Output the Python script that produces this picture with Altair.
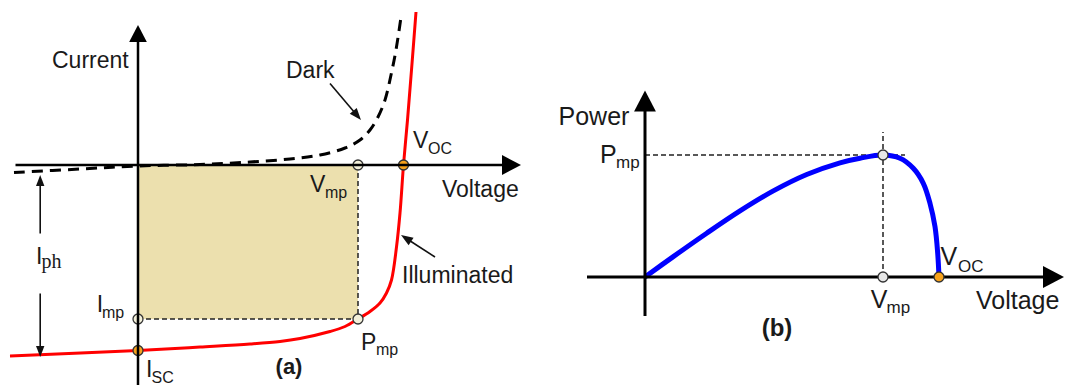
import math
import altair as alt
import pandas as pd

# ---------------- (a) I-V characteristics, schematic units ----------------
V_MP_A = 22.0
V_OC_A = 26.55
I_MP_A = -15.4
I_SC_A = -18.55

ILLUM_V = [-12.8, 0.0, 6.2, 11.2, 14.2, 16.2, 19.2, 20.7, 22.0, 23.2, 24.2, 24.85,
           25.35, 25.85, 26.2, 26.55, 26.95, 27.35, 27.8]
ILLUM_I = [-19.1, -18.55, -18.2, -17.9, -17.65, -17.35, -16.65, -16.15, -15.4, -14.65,
           -13.8, -12.8, -11.5, -8.2, -4.8, 0.0, 4.5, 9.5, 15.3]

DARK_V = [-12.4, -5.8, 0.0, 6.2, 11.2, 15.2, 18.2, 20.7, 22.2, 23.2, 24.0, 24.7, 25.3, 25.8, 26.3]
DARK_I = [-0.75, -0.4, -0.1, 0.05, 0.3, 0.6, 1.0, 1.7, 2.5, 3.5, 4.8, 6.5, 9.0, 11.5, 14.8]

# ---------------- (b) P-V characteristic ----------------
V_MP_B = 23.8
V_OC_B = 29.4
P_MP_B = 12.2

POWER_V = [0.0, 2.83, 6.17, 9.5, 12.83, 16.17, 19.5, 21.5, 23.8, 25.5, 26.83, 27.83,
           28.5, 29.0, 29.27, 29.4]
POWER_P = [0.0, 2.04, 4.38, 6.61, 8.61, 10.25, 11.42, 11.88, 12.2, 11.87, 10.87, 9.37,
           7.37, 5.03, 2.37, 0.0]

# ---------------- layout (10 px per schematic unit on both axes) ----------------
PX = 10.0
A_W, B_W, H = 540, 526, 385
A_XDOM, A_YDOM = [-13.8, 40.2], [-22.0, 16.5]
B_XDOM, B_YDOM = [-10.5, 42.1], [-10.8, 27.7]

TEXT = "#1a1a1a"
SANS = "Liberation Sans"
SERIF = "Liberation Serif"
ORANGE = "#F7A21B"
CURVE = "catmull-rom"
AXIS_HEAD = "M0,0L0.52,1L-0.52,1Z"
POINTER_HEAD = "M0,0L0.38,1L-0.38,1Z"


def arrow(x0, y0, x1, y1, head_px):
    """Shaft segment plus a head row pointing at (x1, y1)."""
    dx, dy = x1 - x0, y1 - y0
    n = math.hypot(dx, dy)
    back = 0.8 * head_px / PX
    shaft = dict(x=x0, y=y0, x2=x1 - dx / n * back, y2=y1 - dy / n * back)
    ang = math.degrees(math.atan2(dx, dy)) % 360
    head = dict(x=x1, y=y1, angle=ang, size=(2 * head_px) ** 2)
    return shaft, head


def panel(xdom, ydom, width, axis_specs, pointer_specs, layers_fn, labels, sub_labels,
          serif_labels, bold_labels, axis_width):
    sx = alt.Scale(domain=xdom, nice=False, zero=False)
    sy = alt.Scale(domain=ydom, nice=False, zero=False)

    def X(f):
        return alt.X(f, type="quantitative", scale=sx, axis=None)

    def Y(f):
        return alt.Y(f, type="quantitative", scale=sy, axis=None)

    axis_shafts, axis_heads = zip(*[arrow(*a) for a in axis_specs])
    layers = layers_fn(X, Y)

    layers.append(
        alt.Chart(pd.DataFrame(list(axis_shafts))).mark_rule(
            color="black", strokeWidth=axis_width, strokeCap="butt")
        .encode(x=X("x"), y=Y("y"), x2="x2:Q", y2="y2:Q"))
    layers.append(
        alt.Chart(pd.DataFrame(list(axis_heads))).mark_point(
            shape=AXIS_HEAD, filled=True, color="black", opacity=1, strokeWidth=0)
        .encode(x=X("x"), y=Y("y"), angle=alt.Angle("angle:Q", scale=None),
                size=alt.Size("size:Q", scale=None)))

    if pointer_specs:
        p_shafts, p_heads = zip(*[arrow(*a) for a in pointer_specs])
        layers.append(
            alt.Chart(pd.DataFrame(list(p_shafts))).mark_rule(color="#111", strokeWidth=1.6)
            .encode(x=X("x"), y=Y("y"), x2="x2:Q", y2="y2:Q"))
        layers.append(
            alt.Chart(pd.DataFrame(list(p_heads))).mark_point(
                shape=POINTER_HEAD, filled=True, color="#111", opacity=1, strokeWidth=0)
            .encode(x=X("x"), y=Y("y"), angle=alt.Angle("angle:Q", scale=None),
                    size=alt.Size("size:Q", scale=None)))

    for rows, font, weight, align in [
        (labels, SANS, "normal", "left"),
        (sub_labels, SANS, "normal", "left"),
        (serif_labels, SERIF, "normal", "left"),
        (bold_labels, SANS, "bold", "center"),
    ]:
        if not rows:
            continue
        df = pd.DataFrame(rows, columns=["text", "x", "y", "size"])
        layers.append(
            alt.Chart(df).mark_text(align=align, baseline="alphabetic", font=font,
                                    fontWeight=weight, color=TEXT)
            .encode(x=X("x"), y=Y("y"), text="text:N", size=alt.Size("size:Q", scale=None)))

    return alt.layer(*layers).properties(width=width, height=H)


# ---------------- panel (a) ----------------
def layers_a(X, Y):
    box = pd.DataFrame([dict(x=0.0, x2=V_MP_A, y=0.0, y2=I_MP_A)])
    guides = pd.DataFrame([
        dict(x=0.0, y=I_MP_A, x2=V_MP_A, y2=I_MP_A),
        dict(x=V_MP_A, y=0.0, x2=V_MP_A, y2=I_MP_A),
    ])
    illum = pd.DataFrame({"v": ILLUM_V, "i": ILLUM_I})
    dark = pd.DataFrame({"v": DARK_V, "i": DARK_I})
    dots = pd.DataFrame([
        dict(x=V_MP_A, y=0.0, fill="#F3F0DA"),
        dict(x=0.0, y=I_MP_A, fill="#F3F0DA"),
        dict(x=V_MP_A, y=I_MP_A, fill="#F3F0DA"),
        dict(x=V_OC_A, y=0.0, fill=ORANGE),
        dict(x=0.0, y=I_SC_A, fill=ORANGE),
    ])
    return [
        alt.Chart(box).mark_rect(color="#ECE0AE").encode(x=X("x"), x2="x2:Q", y=Y("y"), y2="y2:Q"),
        alt.Chart(guides).mark_rule(color="#222", strokeWidth=1.5, strokeDash=[5, 3])
        .encode(x=X("x"), y=Y("y"), x2="x2:Q", y2="y2:Q"),
        alt.Chart(dark).mark_line(color="black", strokeWidth=3, strokeDash=[11, 7],
                                  interpolate=CURVE)
        .encode(x=X("v"), y=Y("i")),
        alt.Chart(illum).mark_line(color="#FF0000", strokeWidth=3, interpolate=CURVE)
        .encode(x=X("v"), y=Y("i")),
    ], dots


def build_a():
    holder = {}

    def fn(X, Y):
        base, dots = layers_a(X, Y)
        holder["dots"] = (dots, X, Y)
        return base

    axes = [(-12.25, 0.0, 38.3, 0.0, 19), (0.0, -22.0, 0.0, 14.0, 17)]
    pointers = [
        (19.2, 8.16, 22.3, 4.5, 12),        # Dark
        (29.7, -9.2, 26.3, -7.0, 12),       # Illuminated
        (-9.78, -6.85, -9.78, -1.0, 11),    # I_ph upper
        (-9.78, -12.85, -9.78, -19.2, 11),  # I_ph lower
    ]
    labels = [
        ("Current", -8.6, 9.7, 23),
        ("Dark", 14.8, 8.7, 23),
        ("Voltage", 30.4, -3.2, 23),
        ("Illuminated", 26.4, -11.8, 23),
        ("V", 27.5, 1.7, 23),
        ("V", 17.2, -2.7, 23),
        ("I", -10.2, -9.9, 23),
        ("I", -4.13, -14.7, 23),
        ("I", 0.8, -21.2, 23),
        ("P", 22.3, -18.5, 23),
    ]
    subs = [
        ("OC", 29.0, 1.1, 16),
        ("mp", 18.7, -3.3, 16),
        ("mp", -3.6, -15.3, 16),
        ("SC", 1.35, -21.8, 16),
        ("mp", 23.8, -19.0, 16),
    ]
    serif = [("ph", -9.65, -10.3, 20)]
    bold = [("(a)", 15.1, -20.9, 22)]
    ch = panel(A_XDOM, A_YDOM, A_W, axes, pointers, fn, labels, subs, serif, bold, 2.5)
    dots, X, Y = holder["dots"]
    dot_layer = alt.Chart(dots).mark_point(shape="circle", filled=True, size=100, opacity=1,
                                           stroke="#333", strokeWidth=1.3).encode(
        x=X("x"), y=Y("y"), fill=alt.Fill("fill:N", scale=None))
    return alt.layer(*ch.layer[:4], dot_layer, *ch.layer[4:]).properties(width=A_W, height=H)


# ---------------- panel (b) ----------------
def build_b():
    holder = {}

    def fn(X, Y):
        guides = pd.DataFrame([
            dict(x=0.0, y=P_MP_B, x2=26.0, y2=P_MP_B),
            dict(x=V_MP_B, y=0.0, x2=V_MP_B, y2=14.5),
        ])
        power = pd.DataFrame({"v": POWER_V, "p": POWER_P})
        holder["XY"] = (X, Y)
        return [
            alt.Chart(guides).mark_rule(color="#222", strokeWidth=1.5, strokeDash=[5, 3])
            .encode(x=X("x"), y=Y("y"), x2="x2:Q", y2="y2:Q"),
            alt.Chart(power).mark_line(color="#0000FF", strokeWidth=5, interpolate=CURVE)
            .encode(x=X("v"), y=Y("p")),
        ]

    axes = [(-5.8, 0.0, 41.9, 0.0, 21), (0.0, -3.9, 0.0, 18.65, 21)]
    labels = [
        ("Power", -8.65, 15.2, 25),
        ("Voltage", 33.1, -3.2, 25),
        ("P", -4.5, 11.4, 25),
        ("V", 29.55, 1.25, 25),
        ("V", 22.57, -3.07, 25),
    ]
    subs = [
        ("mp", -2.9, 10.9, 17),
        ("OC", 31.3, 0.5, 17),
        ("mp", 24.15, -3.6, 17),
    ]
    bold = [("(b)", 13.2, -5.9, 24)]
    ch = panel(B_XDOM, B_YDOM, B_W, axes, [], fn, labels, subs, [], bold, 3)
    X, Y = holder["XY"]
    dots = pd.DataFrame([
        dict(x=V_MP_B, y=P_MP_B, fill="#E6E6E6"),
        dict(x=V_MP_B, y=0.0, fill="#E6E6E6"),
        dict(x=V_OC_B, y=0.0, fill=ORANGE),
    ])
    dot_layer = alt.Chart(dots).mark_point(shape="circle", filled=True, size=100, opacity=1,
                                           stroke="#333", strokeWidth=1.3).encode(
        x=X("x"), y=Y("y"), fill=alt.Fill("fill:N", scale=None))
    return alt.layer(*ch.layer, dot_layer).properties(width=B_W, height=H)


chart = (
    alt.hconcat(build_a(), build_b(), spacing=0, bounds="flush")
    .properties(padding=0, background="white")
    .configure_view(stroke=None)
)

chart.save("out.html", embed_options={"renderer": "svg", "actions": False})
